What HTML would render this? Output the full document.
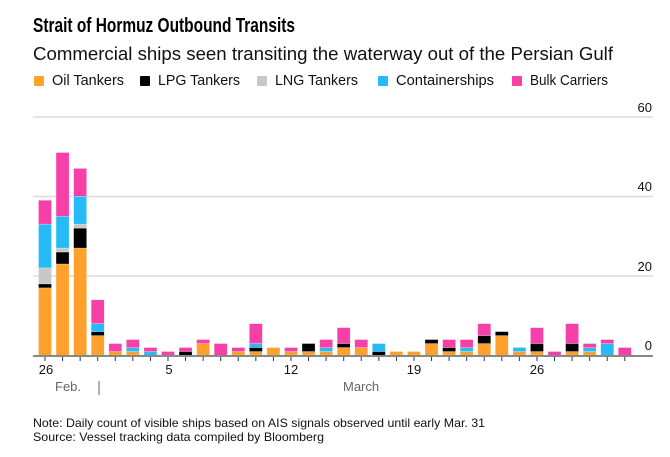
<!DOCTYPE html>
<html><head><meta charset="utf-8"><style>
body{margin:0;background:#fff;width:670px;height:452px;overflow:hidden;font-family:"Liberation Sans",sans-serif}
</style></head><body>
<svg width="670" height="452" xmlns="http://www.w3.org/2000/svg" font-family="Liberation Sans, sans-serif">
<text x="33" y="32" font-size="20" font-weight="bold" textLength="262" lengthAdjust="spacingAndGlyphs">Strait of Hormuz Outbound Transits</text>
<text x="33" y="60" font-size="18" fill="#111" textLength="580" lengthAdjust="spacingAndGlyphs">Commercial ships seen transiting the waterway out of the Persian Gulf</text>
<g font-size="14.5" fill="#111">
<rect x="34" y="76" width="10" height="10" rx="1" fill="#ffa12c"/><text x="52" y="85" textLength="72" lengthAdjust="spacingAndGlyphs">Oil Tankers</text>
<rect x="140" y="76" width="10" height="10" rx="1" fill="#000"/><text x="158" y="85" textLength="82" lengthAdjust="spacingAndGlyphs">LPG Tankers</text>
<rect x="257" y="76" width="10" height="10" rx="1" fill="#c8c8c8"/><text x="275" y="85" textLength="83" lengthAdjust="spacingAndGlyphs">LNG Tankers</text>
<rect x="378" y="76" width="10" height="10" rx="1" fill="#26bbf6"/><text x="396" y="85" textLength="98" lengthAdjust="spacingAndGlyphs">Containerships</text>
<rect x="512" y="76" width="10" height="10" rx="1" fill="#f73fa8"/><text x="530" y="85" textLength="78" lengthAdjust="spacingAndGlyphs">Bulk Carriers</text>
</g>
<g stroke="#dcdcdc" stroke-width="1.5">
<line x1="33" x2="653" y1="117" y2="117"/>
<line x1="33" x2="653" y1="196.5" y2="196.5"/>
<line x1="33" x2="653" y1="276" y2="276"/>
</g>
<g font-size="13" fill="#111" text-anchor="end">
<text x="652" y="112">60</text><text x="652" y="191">40</text><text x="652" y="271">20</text><text x="652" y="350">0</text>
</g>
<g id="bars"></g>
<line x1="33" x2="653" y1="356" y2="356" stroke="#888" stroke-width="2"/>
<g id="ticks" stroke="#333" stroke-width="1"></g>
<g font-size="13" fill="#111" text-anchor="middle">
<text x="46" y="374">26</text><text x="169" y="374">5</text><text x="291" y="374">12</text><text x="414" y="374">19</text><text x="537" y="374">26</text>
</g>
<text x="55" y="391" font-size="13" fill="#666">Feb.</text>
<line x1="99" x2="99" y1="381" y2="395" stroke="#999" stroke-width="1.5"/>
<text x="343" y="391" font-size="13" fill="#666">March</text>
<text x="33" y="427" font-size="12" fill="#111" textLength="452" lengthAdjust="spacingAndGlyphs">Note: Daily count of visible ships based on AIS signals observed until early Mar. 31</text>
<text x="33" y="441" font-size="12" fill="#111" textLength="291" lengthAdjust="spacingAndGlyphs">Source: Vessel tracking data compiled by Bloomberg</text>
</svg>
<script>
var d=[[17,1,4,11,6],[23,3,1,8,16],[27,5,1,7,7],[5,1,0,2,6],[1,0,0,0,2],[1,0,0,1,2],[0,0,0,1,1],[0,0,0,0,1],[0,1,0,0,1],[3,0,0,0,1],[0,0,0,0,3],[1,0,0,0,1],[1,1,0,1,5],[2,0,0,0,0],[1,0,0,0,1],[1,2,0,0,0],[1,0,0,1,2],[2,1,0,0,4],[2,0,0,0,2],[0,1,0,2,0],[1,0,0,0,0],[1,0,0,0,0],[3,1,0,0,0],[1,1,0,0,2],[1,0,0,1,2],[3,2,0,0,3],[5,1,0,0,0],[1,0,0,1,0],[1,2,0,0,4],[0,0,0,0,1],[1,2,0,0,5],[1,0,0,1,1],[0,0,0,3,1],[0,0,0,0,2]];
var c=["#ffa12c","#000","#c8c8c8","#26bbf6","#f73fa8"],u=3.98,b=355.5,s="",t="";
d.forEach(function(r,i){var x=45+i*17.57,y=b;r.forEach(function(v,k){if(!v)return;var h=v*u;y-=h;s+='<rect x="'+(x-6.5)+'" y="'+y+'" width="13" height="'+h+'" fill="'+c[k]+'" stroke="#fff" stroke-opacity="0.4" stroke-width="0.6"/>';});t+='<line x1="'+x+'" x2="'+x+'" y1="357" y2="361"/>';});
document.getElementById("bars").innerHTML=s;document.getElementById("ticks").innerHTML=t;
</script>
</body></html>
